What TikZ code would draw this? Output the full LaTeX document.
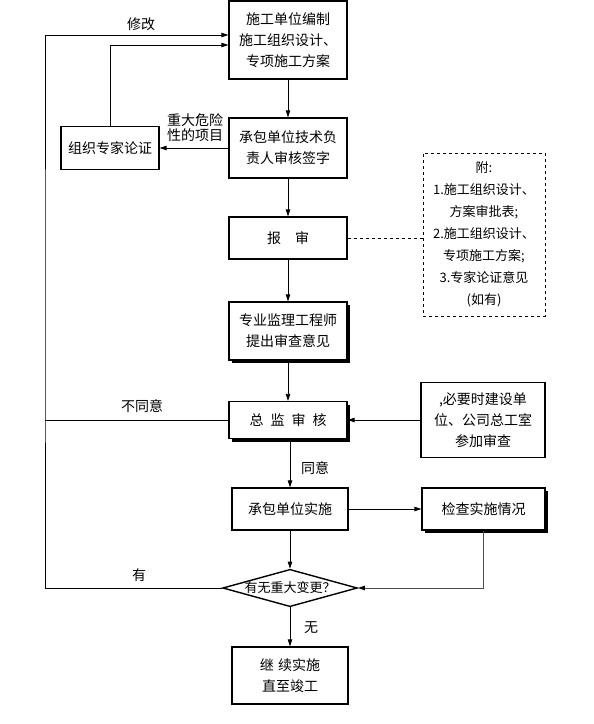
\documentclass[tikz,border=0pt]{standalone}
\usepackage{fontspec}
\newfontfamily\cjk{Noto Sans CJK SC}
\usetikzlibrary{arrows.meta,shapes.geometric,shadows}

\begin{document}
\begin{tikzpicture}[x=1pt,y=-1pt,
  every node/.style={font=\cjk\fontsize{14pt}{21pt}\selectfont, align=center},
  box/.style={draw, line width=1.2pt, inner sep=0pt, fill=white},
  sbox/.style={box, drop shadow={shadow xshift=3pt, shadow yshift=-3pt, fill=black, opacity=1}},
  note/.style={draw, dashed, line width=0.8pt, inner sep=0pt, font=\cjk\fontsize{13pt}{22pt}\selectfont},
  line/.style={line width=0.8pt},
  arr/.style={line, -{Triangle[length=7pt,width=4.5pt,color=black]}},
  lbl/.style={inner sep=0pt}]

\useasboundingbox (0,0) rectangle (594,724);

% Main column
\node[box, minimum width=118, minimum height=78] (draft) at (288,40) {施工单位编制\\施工组织设计、\\专项施工方案};
\node[box, minimum width=118, minimum height=60] (sign) at (288,148) {承包单位技术负\\责人审核签字};
\node[box, minimum width=118, minimum height=42] (report) at (288,238) {报\hspace{1em}审};
\node[sbox, minimum width=118, minimum height=58] (review) at (288,331) {专业监理工程师\\提出审查意见};
\node[sbox, minimum width=118, minimum height=37] (chief) at (288,420) {总\hspace{0.5em}监\hspace{0.5em}审\hspace{0.5em}核};
\node[box, minimum width=116, minimum height=42] (build) at (290,509) {承包单位实施};
\node[draw, diamond, aspect=3.6, line width=1.4pt, inner sep=0pt,
      font=\cjk\fontsize{13pt}{15pt}\selectfont] (change) at (290,588) {有无重大变更？};
\node[box, minimum width=116, minimum height=57] (finish) at (290,675.5) {继\hspace{0.3em}续实施\\直至竣工};

% Side boxes
\node[box, minimum width=98, minimum height=43] (expert) at (110,148) {组织专家论证};
\node[note, minimum width=122, minimum height=163] (attach) at (484,234.5)
  {附:\\1.施工组织设计、\\方案审批表;\\2.施工组织设计、\\专项施工方案;\\3.专家论证意见\\(如有)};
\node[box, minimum width=124, minimum height=75] (owner) at (483,420) {,必要时建设单\\位、公司总工室\\参加审查};
\node[sbox, minimum width=123, minimum height=42] (check) at (483.5,509) {检查实施情况};

% Left return line
\coordinate (lft) at (45,300);

% Labels
\node[lbl] (modify) at (141,24) {修改};
\node[lbl, font=\cjk\fontsize{14pt}{15pt}\selectfont] (major) at (195,128) {重大危险\\性的项目};
\node[lbl] (disagree) at (142,406) {不同意};
\node[lbl] (agree) at (315,468) {同意};
\node[lbl] (yes) at (139,575) {有};
\node[lbl] (no) at (311,628) {无};

% Connectors down the column
\draw[arr] (draft) -- (sign);
\draw[arr] (sign) -- (report);
\draw[arr] (report) -- (review);
\draw[arr] (review) -- (chief);
\draw[arr] (chief.south -| build) -- (build);
\draw[arr] (build) -- (change);
\draw[arr] (change) -- (finish);

% Expert loop
\draw[arr] (sign.west) -- (expert.east);
\draw[arr] (expert.north) |- ([yshift=-5pt]draft.west);

% Return loop on the left
\draw[arr] (change.west) -| (lft) |- ([yshift=5pt]draft.west);
\draw[line] (chief.west) -- (chief.west -| lft);

% Right side
\draw[line, dashed] (report.east) -- (attach.west |- report.east);
\draw[arr] (owner.west) -- (chief.east);
\draw[arr] (build.east) -- (check.west);
\draw[arr, draw=black!70, line width=1pt] (check.south) |- (change.east);

\end{tikzpicture}
\end{document}
